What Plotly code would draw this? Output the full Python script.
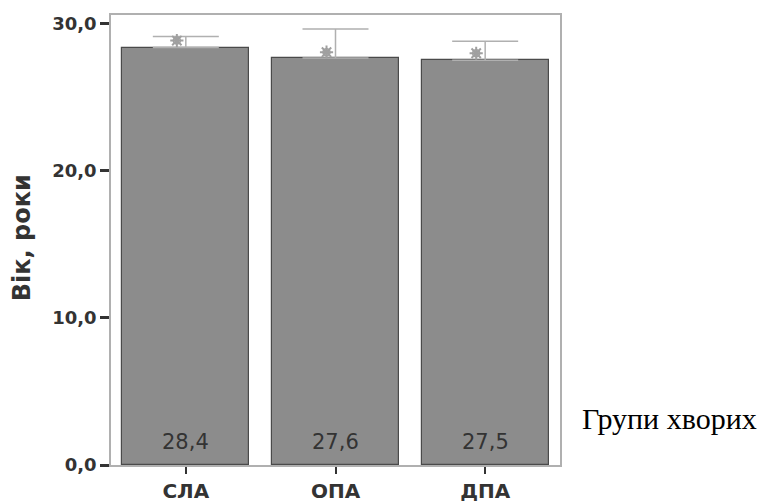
import plotly.graph_objects as go

categories = ["СЛА", "ОПА", "ДПА"]
means = [28.4, 27.6, 27.5]
bar_tops = [28.39, 27.67, 27.53]
upper = [29.14, 29.64, 28.82]
markers = [28.86, 28.07, 28.0]
y_ticks = [0, 10, 20, 30]
x_title = "Групи хворих"
y_title = "Вік, роки"

xs = list(range(len(categories)))
err_plus = [u - b for u, b in zip(upper, bar_tops)]
marker_off = 0.06

fig = go.Figure()
fig.add_trace(go.Bar(
    x=xs, y=bar_tops, width=0.85,
    marker=dict(color="#8c8c8c", line=dict(color="#4a4a4a", width=1.2)),
    error_y=dict(type="data", symmetric=False, array=err_plus,
                 arrayminus=[0] * len(xs), color="#b0b0b0", thickness=1.5, width=33),
    hoverinfo="skip", showlegend=False,
))
fig.add_trace(go.Scatter(
    x=[x - marker_off for x in xs], y=markers, mode="markers",
    marker=dict(symbol="asterisk-open", size=11, color="#a0a0a0",
                line=dict(color="#a0a0a0", width=2)),
    showlegend=False, hoverinfo="skip",
))
fig.add_trace(go.Scatter(
    x=[x - marker_off for x in xs], y=markers, mode="markers",
    marker=dict(symbol="circle-open", size=7, color="#a0a0a0",
                line=dict(color="#a0a0a0", width=1.5)),
    showlegend=False, hoverinfo="skip",
))

for x, m in zip(xs, means):
    fig.add_annotation(x=x, y=0, yshift=23, text=f"{m:.1f}".replace(".", ","),
                       showarrow=False, yanchor="middle",
                       font=dict(family="DejaVu Sans", size=21, color="#333333"))

fig.add_annotation(xref="paper", yref="paper", x=-0.198, y=0.504, text=f"<b>{y_title}</b>",
                   textangle=-90, showarrow=False, xanchor="center", yanchor="middle",
                   font=dict(family="DejaVu Sans", size=24, color="#333333"))
fig.add_annotation(xref="paper", yref="paper", x=1.045, y=0.104, text=x_title,
                   showarrow=False, xanchor="left", yanchor="middle",
                   font=dict(family="Liberation Serif", size=30, color="#000000"))

# page has an 8px body margin, so the figure is sized/margined to compensate
fig.update_layout(
    width=763, height=494,
    margin=dict(l=103, r=211, t=7, b=37),
    plot_bgcolor="white", paper_bgcolor="white",
    separators=",.",
    bargap=0,
)
fig.update_xaxes(
    automargin=False,
    range=[-0.5, 2.5], tickvals=xs, ticktext=[f"<b>{c}</b>" for c in categories],
    showgrid=False, zeroline=False,
    showline=True, linecolor="#b0b0b0", linewidth=1.5, mirror=True,
    ticks="outside", ticklen=7, tickwidth=2, tickcolor="#333333",
    tickfont=dict(family="DejaVu Sans", size=20, color="#333333"),
)
fig.update_yaxes(
    automargin=False,
    range=[0, 30.6], tickvals=y_ticks, tickformat=".1f",
    showgrid=False, zeroline=False,
    showline=True, linecolor="#b0b0b0", linewidth=1.5, mirror=True,
    ticks="outside", ticklen=9, tickwidth=2.5, tickcolor="#333333",
    tickfont=dict(family="DejaVu Sans", size=18, color="#333333", weight="bold"),
)

fig.write_html("out.html")
